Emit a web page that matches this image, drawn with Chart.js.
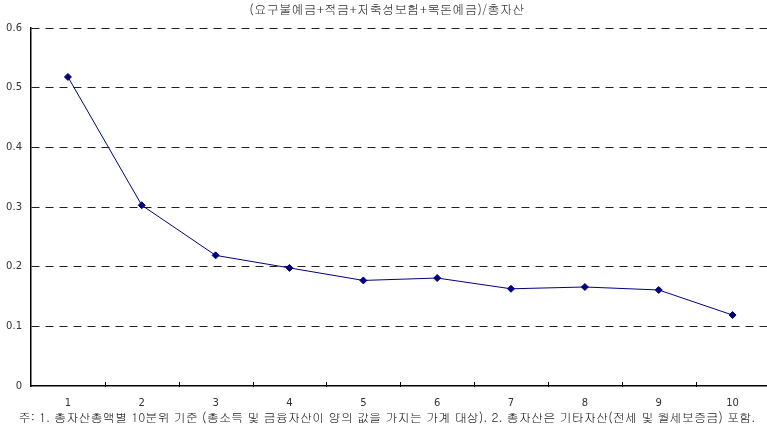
<!DOCTYPE html>
<html>
<head>
<meta charset="utf-8">
<script src="https://cdn.jsdelivr.net/npm/chart.js@4"></script>
<style>
  html, body { margin: 0; padding: 0; background: #fff; overflow: hidden; }
  #wrap { width: 774px; height: 427px; position: relative; }
</style>
</head>
<body>
<div id="wrap"><canvas id="ratioChart"></canvas></div>
<script>
// deciles by total assets
const deciles = ["1", "2", "3", "4", "5", "6", "7", "8", "9", "10"];
// (demand deposits + savings + insurance + lump-sum deposits) / total assets
const ratio = [0.518, 0.303, 0.219, 0.198, 0.177, 0.181, 0.163, 0.166, 0.161, 0.119];
const yTicks = [0, 0.1, 0.2, 0.3, 0.4, 0.5, 0.6];

const titleText = "(요구불예금+적금+저축성보험+목돈예금)/총자산";
const noteText = "주: 1. 총자산총액별 10분위 기준 (총소득 및 금융자산이 양의 값을 가지는 가계 대상). 2. 총자산은 기타자산(전세 및 월세보증금) 포함.";

const korFont = "Gulim, 'Noto Sans CJK KR', 'DejaVu Sans', sans-serif";

// small tick marks between categories, pointing up from the x axis
const betweenTicks = {
  id: "betweenTicks",
  afterDraw(chart) {
    const x = chart.scales.x;
    const ctx = chart.ctx;
    const bottom = chart.chartArea.bottom;
    ctx.save();
    ctx.strokeStyle = "#000";
    ctx.lineWidth = 1;
    for (let i = 1; i < deciles.length; i++) {
      let px = Math.round((x.getPixelForValue(i - 1) + x.getPixelForValue(i)) / 2) + 0.5;
      ctx.beginPath();
      ctx.moveTo(px, bottom - 4);
      ctx.lineTo(px, bottom + 1);
      ctx.stroke();
    }
    ctx.restore();
  }
};

let ctx = document.getElementById("ratioChart").getContext("2d");
new Chart(ctx, {
  type: "line",
  data: {
    labels: deciles,
    datasets: [{
      data: ratio,
      borderColor: "#000080",
      backgroundColor: "#000080",
      borderWidth: 1,
      pointStyle: "rectRot",
      pointRadius: 3.5,
      pointHoverRadius: 3.5,
      tension: 0,
      fill: false
    }]
  },
  options: {
    responsive: true,
    maintainAspectRatio: false,
    animation: false,
    layout: { padding: 0 },
    plugins: {
      legend: { display: false },
      tooltip: { enabled: false },
      title: {
        display: true,
        text: titleText,
        color: "#333",
        font: { family: korFont, size: 12.5, weight: "normal" },
        padding: { top: 1.5, bottom: 11.5 }
      },
      subtitle: {
        display: true,
        position: "bottom",
        text: noteText,
        color: "#222",
        font: { family: korFont, size: 12.2, weight: "normal" },
        padding: { top: 0, bottom: 2.7 }
      }
    },
    scales: {
      x: {
        offset: true,
        grid: { display: false, drawTicks: false },
        border: { display: true, color: "#000", width: 1.5 },
        ticks: {
          color: "#333",
          padding: 11,
          font: { family: "'DejaVu Sans', sans-serif", size: 10 }
        },
        afterFit(scale) { scale.height = 23.6; }
      },
      y: {
        min: 0,
        max: 0.6,
        afterBuildTicks(scale) { scale.ticks = yTicks.map(v => ({ value: v })); },
        grid: {
          color: ctx => ctx.tick && ctx.tick.value === 0 ? "rgba(0,0,0,0)" : "#222",
          lineWidth: 1,
          drawTicks: false
        },
        border: { display: true, color: "#000", width: 1.5, dash: [8, 6] },
        ticks: {
          color: "#333",
          padding: 9,
          font: { family: "'DejaVu Sans', sans-serif", size: 10 }
        },
        afterFit(scale) { scale.width = 31; }
      }
    }
  },
  plugins: [betweenTicks]
});
</script>
</body>
</html>
